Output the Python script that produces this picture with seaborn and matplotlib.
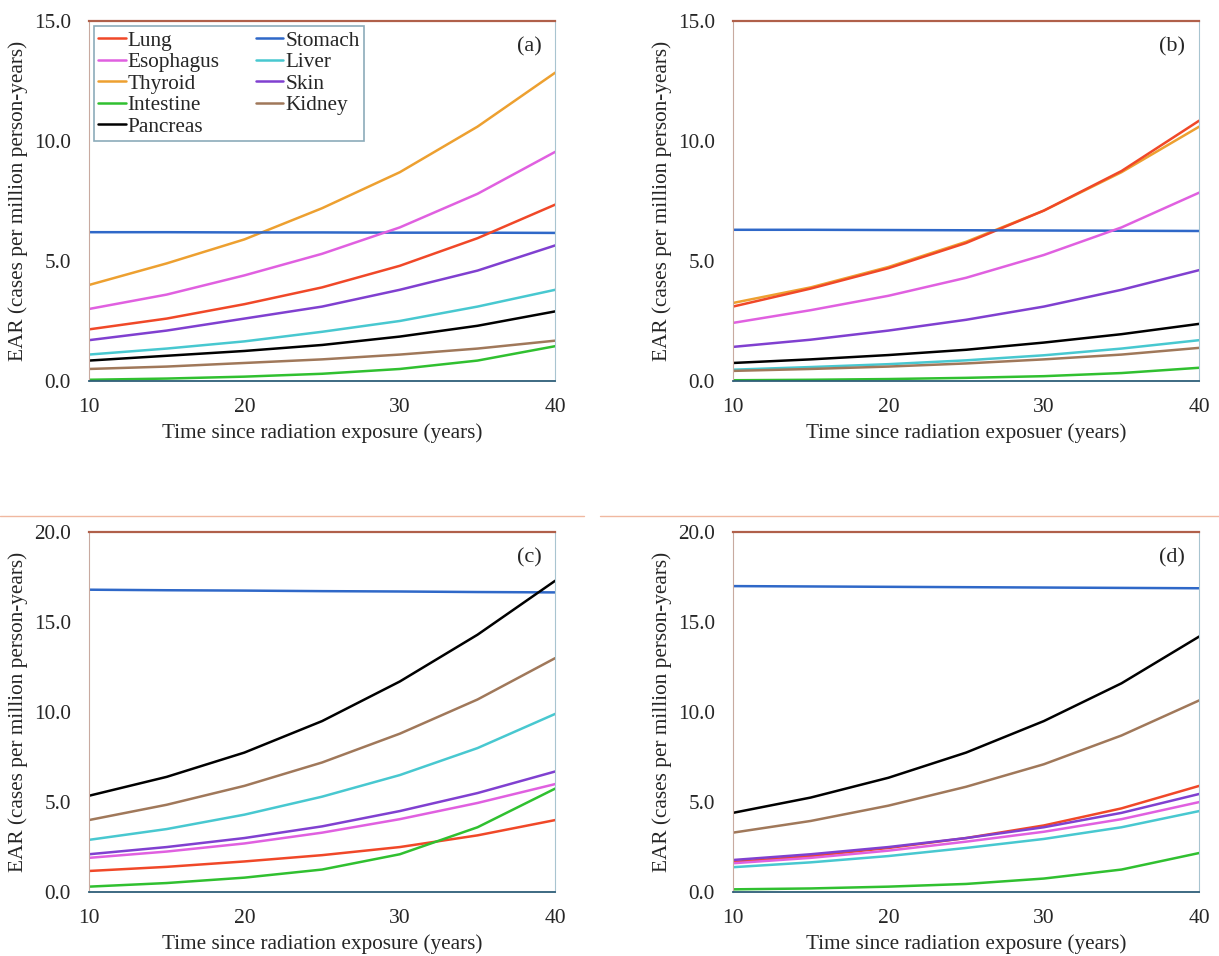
import numpy as np
import pandas as pd
import seaborn as sns
import matplotlib.pyplot as plt
from matplotlib.lines import Line2D

# Years since exposure (x values read at 5-year steps)
years = [10, 15, 20, 25, 30, 35, 40]

legend_order = ["Lung", "Esophagus", "Thyroid", "Intestine", "Pancreas",
                "Stomach", "Liver", "Skin", "Kidney"]
organ_colors = {
    "Lung": "#f04828",
    "Stomach": "#2f68c8",
    "Esophagus": "#e060e0",
    "Liver": "#48c8d0",
    "Thyroid": "#eda030",
    "Skin": "#8040d0",
    "Intestine": "#30c030",
    "Kidney": "#a0785a",
    "Pancreas": "#000000",
}

# Panel (a)
panel_a = {
    "Thyroid":   [4.0, 4.9, 5.9, 7.2, 8.7, 10.6, 12.85],
    "Stomach":   [6.2, 6.2, 6.19, 6.19, 6.18, 6.18, 6.17],
    "Esophagus": [3.0, 3.6, 4.4, 5.3, 6.4, 7.8, 9.55],
    "Lung":      [2.15, 2.6, 3.2, 3.9, 4.8, 5.95, 7.35],
    "Skin":      [1.7, 2.1, 2.6, 3.1, 3.8, 4.6, 5.65],
    "Liver":     [1.1, 1.35, 1.65, 2.05, 2.5, 3.1, 3.8],
    "Pancreas":  [0.85, 1.05, 1.25, 1.5, 1.85, 2.3, 2.9],
    "Kidney":    [0.5, 0.6, 0.75, 0.9, 1.1, 1.35, 1.68],
    "Intestine": [0.05, 0.1, 0.18, 0.3, 0.5, 0.85, 1.45],
}

# Panel (b)
panel_b = {
    "Thyroid":   [3.25, 3.9, 4.75, 5.8, 7.1, 8.7, 10.6],
    "Lung":      [3.1, 3.85, 4.7, 5.75, 7.1, 8.75, 10.85],
    "Stomach":   [6.3, 6.3, 6.29, 6.28, 6.27, 6.26, 6.25],
    "Esophagus": [2.42, 2.95, 3.55, 4.3, 5.25, 6.4, 7.85],
    "Skin":      [1.42, 1.72, 2.1, 2.55, 3.1, 3.8, 4.62],
    "Pancreas":  [0.75, 0.9, 1.08, 1.3, 1.6, 1.95, 2.38],
    "Liver":     [0.47, 0.58, 0.7, 0.86, 1.07, 1.35, 1.7],
    "Kidney":    [0.42, 0.5, 0.6, 0.73, 0.9, 1.1, 1.38],
    "Intestine": [0.03, 0.05, 0.08, 0.13, 0.2, 0.33, 0.55],
}

# Panel (c)
panel_c = {
    "Stomach":   [16.8, 16.77, 16.75, 16.72, 16.7, 16.67, 16.65],
    "Pancreas":  [5.35, 6.4, 7.75, 9.5, 11.7, 14.3, 17.3],
    "Kidney":    [4.0, 4.85, 5.9, 7.2, 8.8, 10.7, 13.0],
    "Liver":     [2.9, 3.5, 4.3, 5.3, 6.5, 8.0, 9.9],
    "Skin":      [2.1, 2.5, 3.0, 3.65, 4.5, 5.5, 6.7],
    "Esophagus": [1.9, 2.25, 2.7, 3.3, 4.05, 4.95, 6.0],
    "Lung":      [1.17, 1.4, 1.7, 2.05, 2.5, 3.15, 4.0],
    "Intestine": [0.3, 0.5, 0.8, 1.25, 2.1, 3.6, 5.75],
}

# Panel (d)
panel_d = {
    "Stomach":   [17.0, 16.98, 16.96, 16.94, 16.92, 16.9, 16.88],
    "Pancreas":  [4.4, 5.25, 6.35, 7.75, 9.5, 11.6, 14.2],
    "Kidney":    [3.3, 3.95, 4.8, 5.85, 7.1, 8.7, 10.65],
    "Lung":      [1.67, 2.0, 2.45, 3.0, 3.7, 4.65, 5.9],
    "Skin":      [1.78, 2.1, 2.5, 3.0, 3.6, 4.4, 5.45],
    "Esophagus": [1.6, 1.9, 2.3, 2.8, 3.35, 4.05, 5.0],
    "Liver":     [1.38, 1.65, 2.0, 2.45, 2.95, 3.6, 4.5],
    "Intestine": [0.15, 0.2, 0.3, 0.45, 0.75, 1.25, 2.17],
}

x_label = "Time since radiation exposure (years)"
x_label_b = "Time since radiation exposuer (years)"
y_label = "EAR (cases per million person-years)"

sns.set_style("white")
plt.rcParams["font.family"] = ["Liberation Serif", "DejaVu Serif"]

fig = plt.figure(figsize=(12.19, 9.56), dpi=100)

w, h = 0.3825, 0.3765
positions = {
    "a": [0.0730, 0.6015, w, h],
    "b": [0.6013, 0.6015, w, h],
    "c": [0.0730, 0.0669, w, h],
    "d": [0.6013, 0.0669, w, h],
}
panels = [("a", panel_a, 15, x_label), ("b", panel_b, 15, x_label_b),
          ("c", panel_c, 20, x_label), ("d", panel_d, 20, x_label)]


def to_long(panel):
    rows = []
    for organ, vals in panel.items():
        for yr, v in zip(years, vals):
            rows.append({"year": yr, "EAR": v, "organ": organ})
    return pd.DataFrame(rows)


for tag, panel, ymax, xl in panels:
    ax = fig.add_axes(positions[tag])
    df = to_long(panel)
    sns.lineplot(data=df, x="year", y="EAR", hue="organ", palette=organ_colors,
                 linewidth=1.8, legend=False, ax=ax)
    ax.set_xlim(10, 40)
    ax.set_ylim(0, ymax)
    ax.set_xticks([10, 20, 30, 40])
    ax.set_yticks(np.arange(0, ymax + 0.1, 5))
    ax.set_yticklabels([f"{v:.1f}" for v in np.arange(0, ymax + 0.1, 5)])
    ax.tick_params(axis="x", direction="in", length=4, labelsize=15.5, pad=12)
    ax.tick_params(axis="y", direction="out", length=4, labelsize=15.2, pad=9)
    ax.set_xlabel(xl, fontsize=15.3, labelpad=5)
    ax.set_ylabel(y_label, fontsize=15.3, labelpad=4)
    ax.spines["top"].set_color("#b0604a")
    ax.spines["top"].set_linewidth(1.6)
    ax.spines["bottom"].set_color("#2e5e78")
    ax.spines["bottom"].set_linewidth(1.3)
    ax.spines["left"].set_color("#c8aaa0")
    ax.spines["right"].set_color("#a8c4d0")
    ax.text(0.97, 0.955, f"({tag})", transform=ax.transAxes, ha="right", va="top",
            fontsize=16)

    if tag == "a":
        handles = [Line2D([0], [0], color=organ_colors[o], lw=1.8) for o in legend_order]
        leg = ax.legend(handles, legend_order, ncol=2, loc="upper left",
                        bbox_to_anchor=(0.01, 0.985), fontsize=15.3, frameon=True,
                        fancybox=False, handlelength=1.3, handletextpad=0.1,
                        labelspacing=0.08, columnspacing=1.7, borderpad=0.2,
                        borderaxespad=0.0)
        leg.get_frame().set_edgecolor("#6f96a8")
        leg.get_frame().set_linewidth(1.2)

# faint separator line between the rows, as in the source page
fig.add_artist(Line2D([0.0, 0.479], [0.4605, 0.4605], color="#f0b8a0", lw=1.0))
fig.add_artist(Line2D([0.492, 1.0], [0.4605, 0.4605], color="#f0b8a0", lw=1.0))

fig.savefig("out.png", dpi=100)
